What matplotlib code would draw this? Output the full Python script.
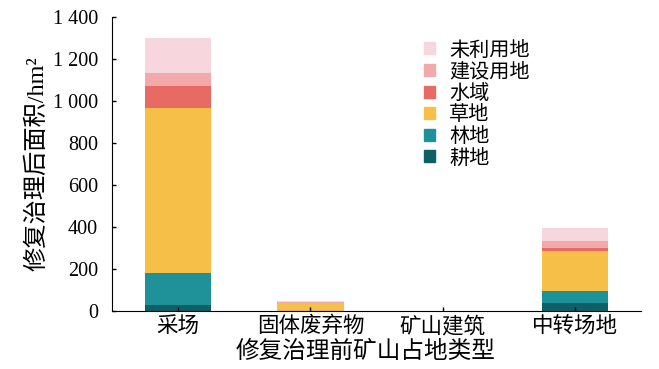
import numpy as np
import matplotlib
matplotlib.use('Agg')
import matplotlib.pyplot as plt
from matplotlib.patches import Patch

plt.rcParams['font.family'] = ['Liberation Serif', 'Noto Sans CJK SC']

### Data (hm2)
categories = ['采场', '固体废弃物', '矿山建筑', '中转场地']
layers = ['耕地', '林地', '草地', '水域', '建设用地', '未利用地']
gengdi   = [29, 0, 0, 37]
lindi    = [153, 0, 0, 58]
caodi    = [783, 37, 0, 192]
shuiyu   = [108, 0, 0, 12]
jianshe  = [59, 5, 0, 36]
weiliyong = [168, 8, 0, 59]
yticks = [0, 200, 400, 600, 800, 1000, 1200, 1400]

series = [gengdi, lindi, caodi, shuiyu, jianshe, weiliyong]
colors = ['#0F5F66', '#1F9199', '#F5BF48', '#E86B63', '#F2A9A9', '#F7D6DE']

fig = plt.figure(figsize=(6.59, 3.69), dpi=100)
ax = fig.add_axes([0.170, 0.157, 0.803, 0.797])

x = np.arange(len(categories))
bottom = np.zeros(len(categories))
for vals, c, name in zip(series, colors, layers):
    ax.bar(x, vals, width=0.5, bottom=bottom, color=c, label=name, linewidth=0)
    bottom += np.array(vals)

ax.set_xlim(-0.5, 3.5)
ax.set_ylim(0, 1400)
ax.set_yticks(yticks)
ax.set_yticklabels([f'{v:,}'.replace(',', ' ') for v in yticks], fontsize=14.5)
ax.set_xticks(x)
ax.set_xticklabels(categories, fontsize=15.5, family='Noto Sans CJK SC')
ax.tick_params(direction='in', length=3, width=1)
ax.tick_params(axis='y', pad=10)
ax.tick_params(axis='x', pad=3)
for s in ['top', 'right']:
    ax.spines[s].set_visible(False)

ax.set_xlabel('修复治理前矿山占地类型', fontsize=17, family='Noto Sans CJK SC')
ax.xaxis.set_label_coords(0.478, -0.098)
ax.set_ylabel('修复治理后面积/hm²', fontsize=17.5, labelpad=3)

handles = [Patch(color=c, label=n) for c, n in zip(colors, layers)][::-1]
ax.legend(handles=handles, loc='upper left', bbox_to_anchor=(0.555, 0.985),
          frameon=False, handlelength=0.55, handleheight=0.55,
          handletextpad=0.7, labelspacing=0.03,
          prop={'family': 'Noto Sans CJK SC', 'size': 14.5})

fig.savefig('out.png', dpi=100)
